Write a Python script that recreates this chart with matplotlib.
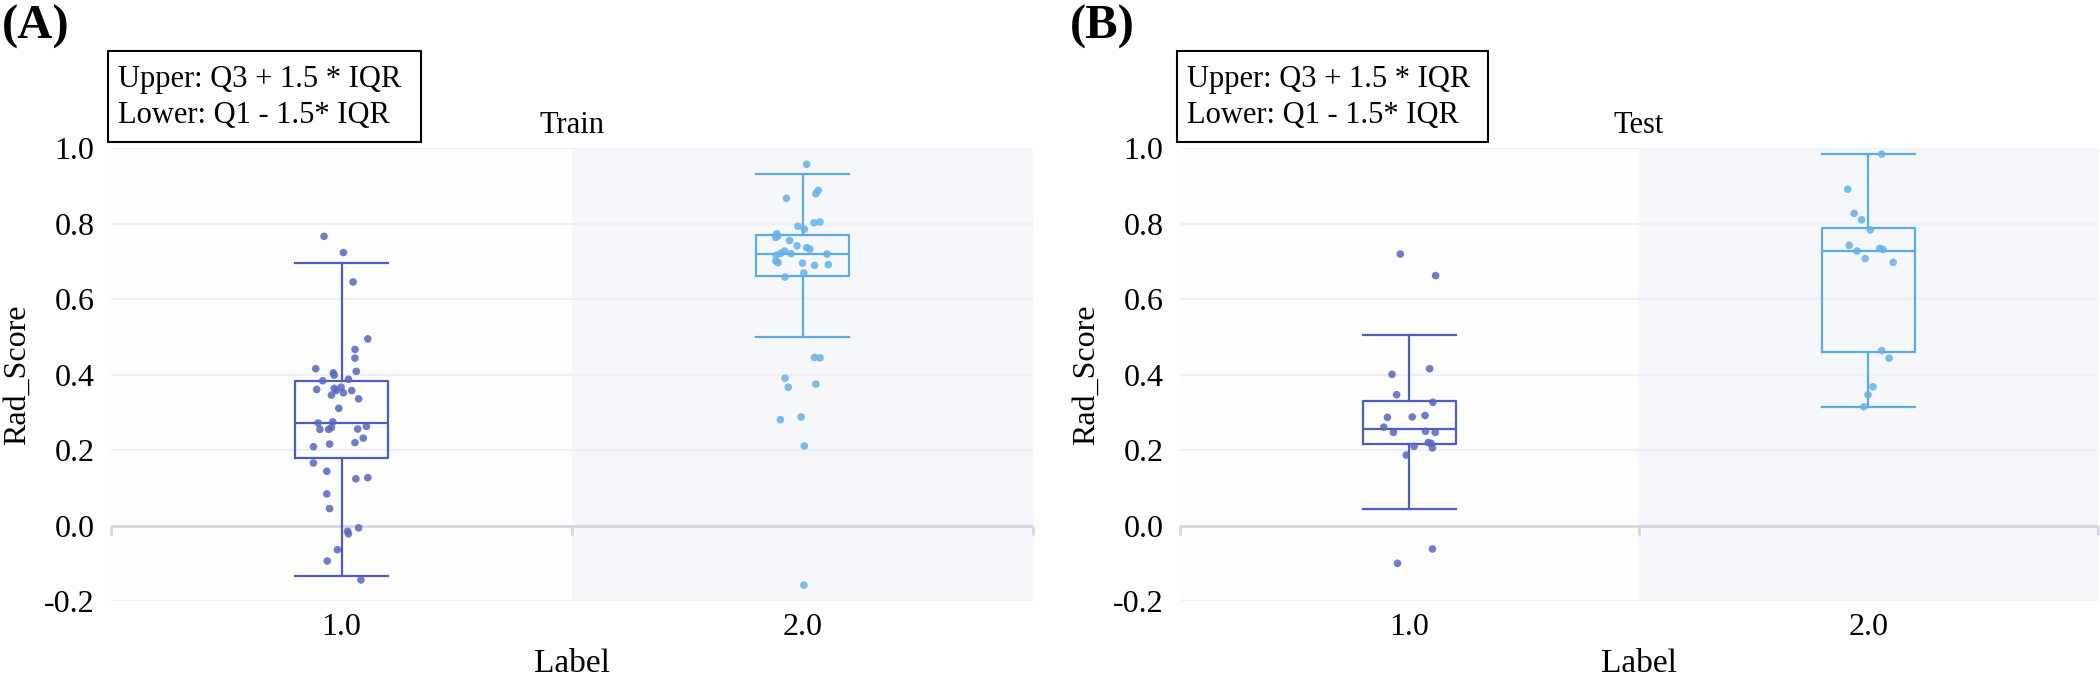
import matplotlib
matplotlib.use("Agg")
import matplotlib.pyplot as plt
from matplotlib.patches import Rectangle

plt.rcParams['font.family'] = ['Liberation Serif', 'DejaVu Serif']

# ---- data ----
categories = ["1.0", "2.0"]
panels = ["Train", "Test"]
panel_tags = ["(A)", "(B)"]

# Train, label 1.0 : (jitter offset, Rad_Score)
train_g1_x = [-0.038, 0.004, 0.025, 0.057, 0.029, 0.029, -0.056, -0.018, -0.016, 0.032,
              -0.041, 0.015, -0.054, -0.001, -0.012, -0.016, -0.022, 0.022, 0.004, 0.037,
              -0.006, -0.051, -0.019, -0.047, -0.028, -0.022, 0.035, 0.054, -0.061, -0.026,
              0.047, 0.029, -0.061, -0.032, 0.031, 0.057, -0.032, -0.026, 0.037, 0.013,
              0.015, -0.009, -0.031, 0.042]
train_g1_y = [0.767, 0.724, 0.646, 0.495, 0.467, 0.444, 0.416, 0.405, 0.399, 0.409,
              0.384, 0.388, 0.361, 0.367, 0.358, 0.364, 0.346, 0.358, 0.352, 0.336,
              0.311, 0.272, 0.275, 0.255, 0.255, 0.260, 0.256, 0.263, 0.209, 0.216,
              0.232, 0.220, 0.166, 0.144, 0.124, 0.127, 0.084, 0.045, -0.006, -0.015,
              -0.022, -0.064, -0.094, -0.144]
# Train, label 2.0
train_g2_x = [0.009, 0.034, 0.029, -0.035, 0.025, 0.038, -0.010, 0.004, -0.056, -0.054,
              -0.058, -0.028, -0.012, 0.009, 0.016, -0.039, -0.047, -0.025, -0.057, 0.053,
              -0.058, -0.053, 0.000, 0.026, 0.056, 0.003, -0.038, 0.026, 0.038, -0.038,
              -0.031, 0.029, -0.048, -0.003, 0.004, 0.003]
train_g2_y = [0.958, 0.889, 0.880, 0.868, 0.803, 0.805, 0.794, 0.786, 0.774, 0.768,
              0.764, 0.756, 0.742, 0.737, 0.733, 0.728, 0.722, 0.721, 0.717, 0.720,
              0.702, 0.697, 0.696, 0.690, 0.692, 0.670, 0.659, 0.446, 0.445, 0.391,
              0.367, 0.375, 0.281, 0.288, 0.211, -0.158]
# Test, label 1.0
test_g1_x = [-0.020, 0.057, 0.044, -0.038, -0.028, 0.051, 0.034, 0.006, -0.048, -0.056,
             -0.035, 0.035, 0.056, 0.041, 0.047, 0.010, 0.050, -0.007, 0.050, -0.026]
test_g1_y = [0.720, 0.663, 0.416, 0.401, 0.347, 0.327, 0.292, 0.288, 0.287, 0.261,
             0.247, 0.250, 0.247, 0.220, 0.218, 0.210, 0.206, 0.187, -0.062, -0.100]
# Test, label 2.0
test_g2_x = [0.029, -0.045, -0.031, -0.015, 0.004, -0.042, -0.025, 0.025, 0.032, -0.007,
             0.054, 0.029, 0.045, 0.010, -0.001, -0.010]
test_g2_y = [0.985, 0.892, 0.828, 0.811, 0.784, 0.743, 0.728, 0.735, 0.732, 0.708,
             0.698, 0.464, 0.444, 0.368, 0.347, 0.315]

# box statistics (whislo, q1, median, q3, whishi)
train_box = [(-0.134, 0.178, 0.273, 0.384, 0.697), (0.499, 0.662, 0.719, 0.770, 0.932)]
test_box = [(0.044, 0.216, 0.256, 0.330, 0.506), (0.315, 0.459, 0.729, 0.790, 0.985)]

line_colors = ["#4c5cc4", "#5aace6"]
dot_colors = ["#5566c2", "#62b2ea"]
band_colors = ["#fdfdfe", "#f5f7fb"]

points = [
    [(train_g1_x, train_g1_y), (train_g2_x, train_g2_y)],
    [(test_g1_x, test_g1_y), (test_g2_x, test_g2_y)],
]
boxes = [train_box, test_box]

fig = plt.figure(figsize=(21, 6.79), dpi=100)
ax_rects = [[0.0529, 0.1149, 0.439, 0.6664], [0.5619, 0.1149, 0.4371, 0.6664]]
tag_x = [0.001, 0.5095]

for p in range(2):
    ax = fig.add_axes(ax_rects[p])
    for i in range(2):
        ax.axvspan(i - 0.5, i + 0.5, color=band_colors[i], zorder=0, lw=0)
    for yv in [-0.2, 0.2, 0.4, 0.6, 0.8, 1.0]:
        ax.axhline(yv, color="#eef0f5", lw=1.5, zorder=1)
    ax.axhline(0, color="#d4d7e1", lw=2, zorder=1)
    ax.vlines([-0.5, 0.5, 1.5], -0.024, 0, color="#d4d7e1", lw=2, zorder=1, clip_on=False)

    for i in range(2):
        lo, q1, med, q3, hi = boxes[p][i]
        stats = [dict(whislo=lo, q1=q1, med=med, q3=q3, whishi=hi, fliers=[])]
        c = line_colors[i]
        ax.bxp(stats, positions=[i], widths=0.203, capwidths=0.203, showfliers=False,
               boxprops=dict(color=c, lw=1.6), whiskerprops=dict(color=c, lw=1.6),
               capprops=dict(color=c, lw=1.6), medianprops=dict(color=c, lw=1.6),
               manage_ticks=False, zorder=3)
        xs, ys = points[p][i]
        ax.scatter([i + d for d in xs], ys, s=30, color=dot_colors[i], alpha=0.85,
                   edgecolors="none", zorder=4)

    ax.set_xlim(-0.5, 1.5)
    ax.set_ylim(-0.2, 1.0)
    ax.set_xticks([0, 1])
    ax.set_xticklabels(categories)
    ax.set_yticks([-0.2, 0.0, 0.2, 0.4, 0.6, 0.8, 1.0])
    ax.set_yticklabels(["-0.2", "0.0", "0.2", "0.4", "0.6", "0.8", "1.0"])
    ax.tick_params(axis="both", length=0, labelsize=23)
    ax.tick_params(axis="y", pad=12)
    ax.tick_params(axis="x", pad=9)
    for s in ax.spines.values():
        s.set_visible(False)

    ax.set_title(panels[p], fontsize=22, pad=11)
    ax.set_ylabel("Rad_Score", fontsize=23, va="center")
    ax.yaxis.set_label_coords(-0.102, 0.5)
    ax.set_xlabel("Label", fontsize=24, va="center")
    ax.xaxis.set_label_coords(0.5, -0.139)

    # annotation box
    ax.add_patch(Rectangle((-0.003, 1.0144), 0.339, 0.201, transform=ax.transAxes,
                           fill=False, ec="black", lw=1.5, clip_on=False))
    ax.text(0.0076, 1.136, "Upper: Q3 + 1.5 * IQR", transform=ax.transAxes,
            fontsize=22, va="baseline", ha="left")
    ax.text(0.0076, 1.056, "Lower: Q1 - 1.5* IQR", transform=ax.transAxes,
            fontsize=22, va="baseline", ha="left")

    fig.text(tag_x[p], 1 - 27 / 679, panel_tags[p], fontsize=35, fontweight="bold",
             va="center", ha="left")

fig.savefig("out.png", dpi=100)
